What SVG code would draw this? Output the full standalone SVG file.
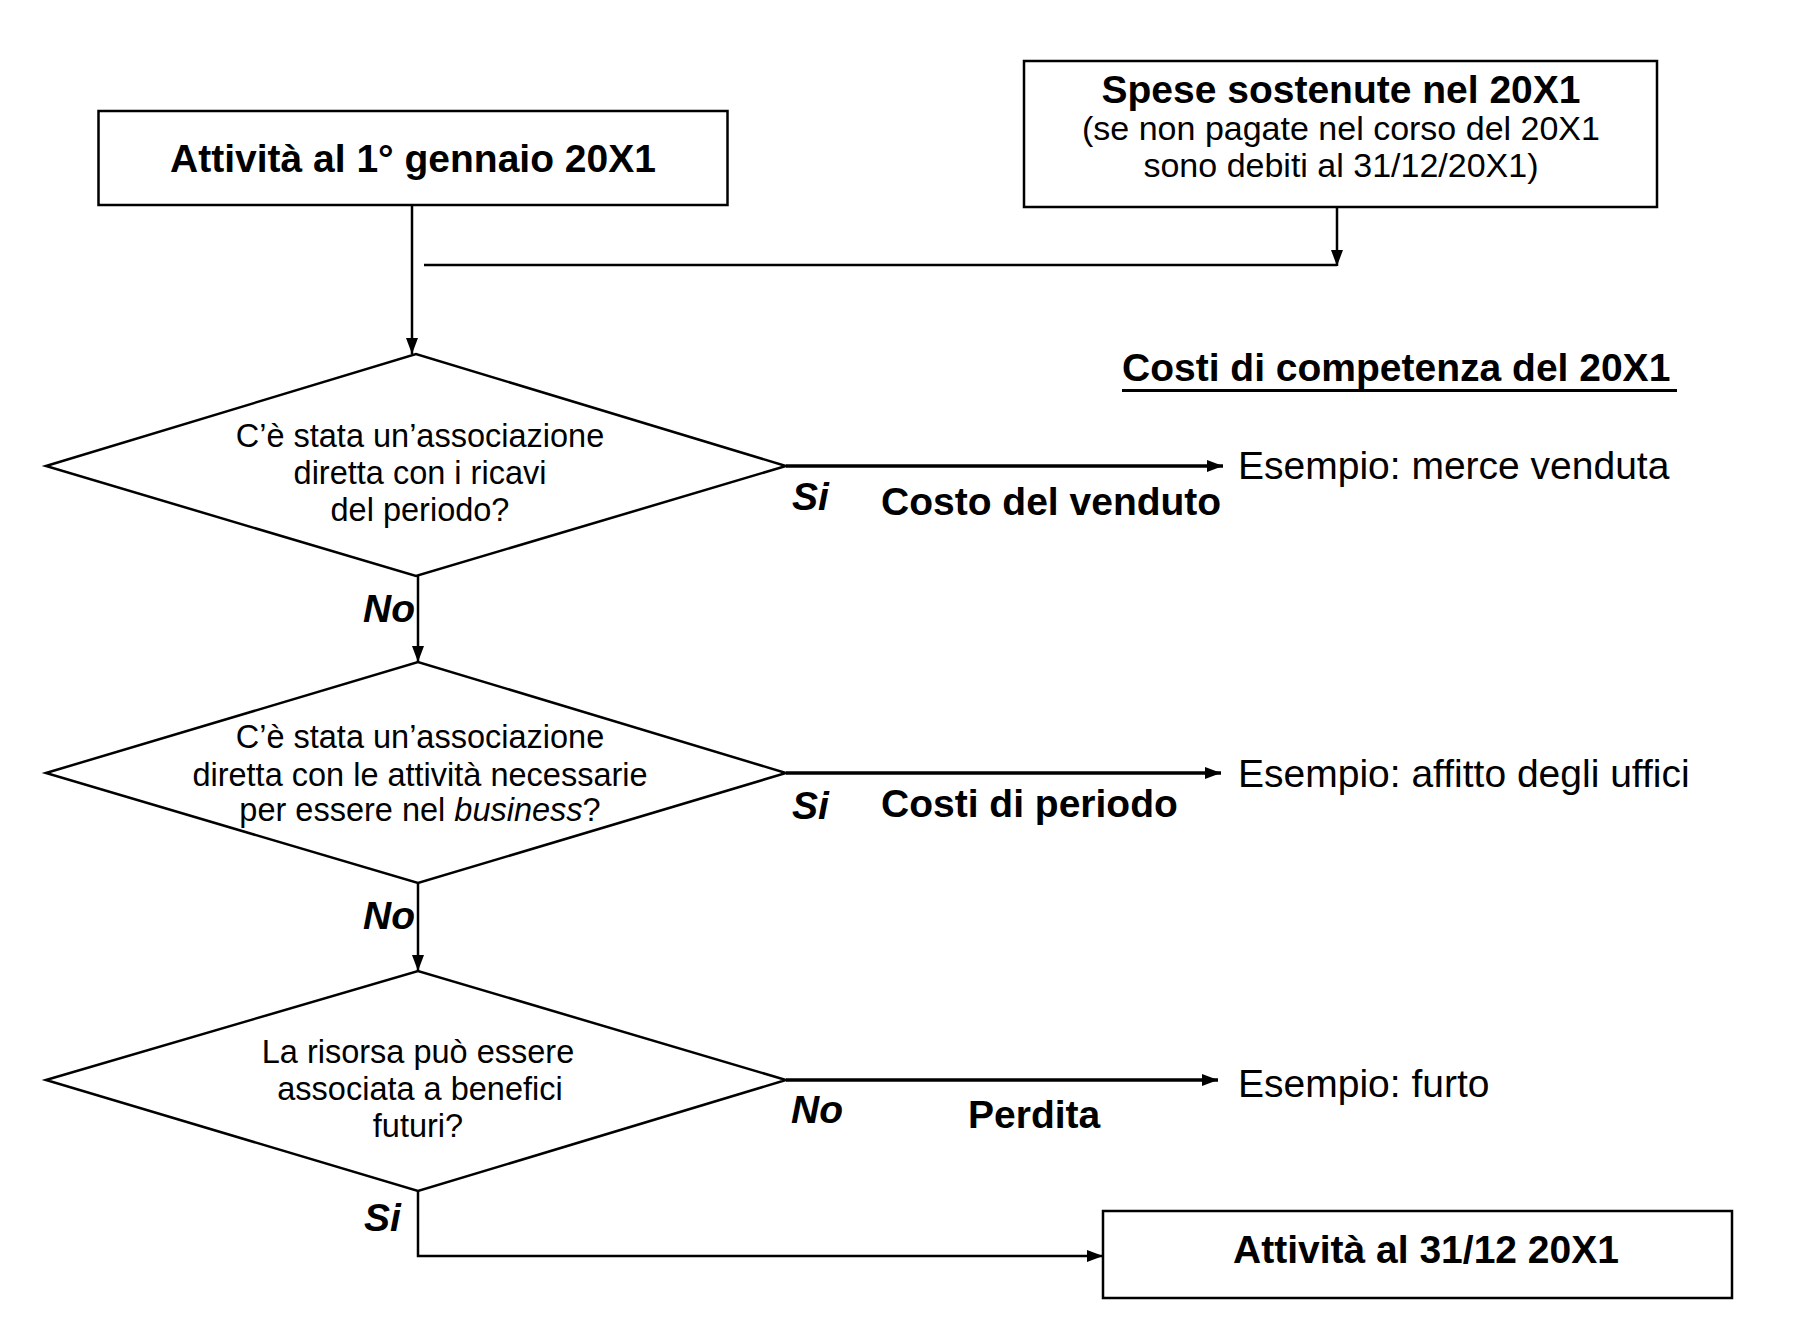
<svg xmlns="http://www.w3.org/2000/svg" width="1796" height="1336" viewBox="0 0 1796 1336">
<style>
  .box { fill: #fff; stroke: #000; stroke-width: 2.5; }
  .dia { fill: #fff; stroke: #000; stroke-width: 2.5; stroke-linejoin: miter; }
  .ln { fill: none; stroke: #000; stroke-width: 2.5; }
  .lnb { fill: none; stroke: #000; stroke-width: 3.5; }
  text { font-family: "Liberation Sans", Arial, sans-serif; fill: #000; }
  .title { font-size: 39px; font-weight: bold; }
  .reg { font-size: 34px; }
  .q { font-size: 32.5px; }
  .ex { font-size: 39px; }
  .lbl { font-size: 39px; font-weight: bold; font-style: italic; }
</style>
<defs>
  <marker id="arr" viewBox="0 0 16 12" refX="16" refY="6" markerWidth="16" markerHeight="13" markerUnits="userSpaceOnUse" orient="auto">
    <path d="M0,0 L16,6 L0,12 z" fill="#000"/>
  </marker>
</defs>

<g id="connectors">
  <line class="ln" x1="412" y1="205" x2="412" y2="354" marker-end="url(#arr)"/>
  <line class="ln" x1="1337" y1="207" x2="1337" y2="266" marker-end="url(#arr)"/>
  <line class="ln" x1="424" y1="265" x2="1337" y2="265"/>
  <line class="ln" x1="418" y1="576" x2="418" y2="662" marker-end="url(#arr)"/>
  <line class="ln" x1="418" y1="883" x2="418" y2="971" marker-end="url(#arr)"/>
  <line class="lnb" x1="786" y1="466" x2="1223" y2="466" marker-end="url(#arr)"/>
  <line class="lnb" x1="786" y1="773" x2="1221" y2="773" marker-end="url(#arr)"/>
  <line class="lnb" x1="786" y1="1080" x2="1218" y2="1080" marker-end="url(#arr)"/>
  <polyline class="ln" points="418,1191 418,1256 1103,1256" marker-end="url(#arr)"/>
  <text class="lbl" x="363" y="622">No</text>
  <text class="lbl" x="363" y="929">No</text>
  <text class="lbl" x="364" y="1231">Si</text>
  <text class="lbl" x="792" y="510">Si</text>
  <text class="lbl" x="792" y="819">Si</text>
  <text class="lbl" x="791" y="1123">No</text>
  <text class="title" x="881" y="515">Costo del venduto</text>
  <text class="title" x="881" y="817">Costi di periodo</text>
  <text class="title" x="968" y="1128">Perdita</text>
  <text class="ex" x="1238" y="479">Esempio: merce venduta</text>
  <text class="ex" x="1238" y="787">Esempio: affitto degli uffici</text>
  <text class="ex" x="1238" y="1097">Esempio: furto</text>
</g>

<g id="start">
  <rect class="box" x="98.5" y="111" width="629" height="94"/>
  <text class="title" x="413" y="172" text-anchor="middle">Attività al 1° gennaio 20X1</text>
</g>

<g id="spese">
  <rect class="box" x="1024" y="61" width="633" height="146"/>
  <text class="title" x="1341" y="103" text-anchor="middle">Spese sostenute nel 20X1</text>
  <text class="reg" x="1341" y="140" text-anchor="middle">(se non pagate nel corso del 20X1</text>
  <text class="reg" x="1341" y="177" text-anchor="middle">sono debiti al 31/12/20X1)</text>
</g>

<g id="heading">
  <text class="title" x="1122" y="381">Costi di competenza del 20X1</text>
  <line x1="1122" y1="390.5" x2="1677" y2="390.5" stroke="#000" stroke-width="3"/>
</g>

<g id="q1">
  <polygon class="dia" points="46,466 416,354 786,466 416,576"/>
  <text class="q" x="420" y="447" text-anchor="middle">C’è stata un’associazione</text>
  <text class="q" x="420" y="484" text-anchor="middle">diretta con i ricavi</text>
  <text class="q" x="420" y="521" text-anchor="middle">del periodo?</text>
</g>

<g id="q2">
  <polygon class="dia" points="46,773 418,662 786,773 418,883"/>
  <text class="q" x="420" y="748" text-anchor="middle">C’è stata un’associazione</text>
  <text class="q" x="420" y="786" text-anchor="middle">diretta con le attività necessarie</text>
  <text class="q" x="420" y="821" text-anchor="middle">per essere nel <tspan font-style="italic">business</tspan>?</text>
</g>

<g id="q3">
  <polygon class="dia" points="46,1080 418,971 786,1080 418,1191"/>
  <text class="q" x="418" y="1063" text-anchor="middle">La risorsa può essere</text>
  <text class="q" x="420" y="1100" text-anchor="middle">associata a benefici</text>
  <text class="q" x="418" y="1137" text-anchor="middle">futuri?</text>
</g>

<g id="end">
  <rect class="box" x="1103" y="1211" width="629" height="87"/>
  <text class="title" x="1426" y="1263" text-anchor="middle">Attività al 31/12 20X1</text>
</g>
</svg>
